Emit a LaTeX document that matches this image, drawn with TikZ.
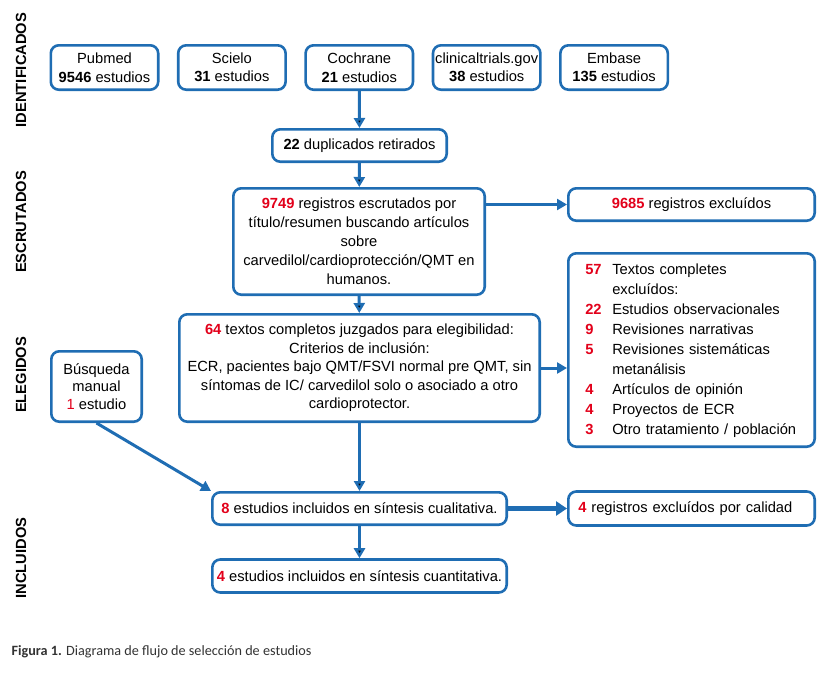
\documentclass[tikz,border=0pt]{standalone}
\usepackage{fontspec}
\setmainfont{Liberation Sans}
\newfontfamily\capfont{Carlito}
\usetikzlibrary{positioning,arrows.meta}

\definecolor{flowblue}{HTML}{1F6DB3}
\definecolor{numred}{HTML}{E2001A}
\definecolor{capgray}{HTML}{333333}
\newcommand{\rnum}[1]{\textcolor{numred}{\textbf{#1}}}

\tikzset{
  box/.style={draw=flowblue, line width=2.6pt, rounded corners=8pt, align=center, inner sep=0pt,
    font=\fontsize{14.7}{18.5}\selectfont},
  srcbox/.style={box, minimum width=107.4pt, minimum height=44.4pt},
  exclbox/.style={box, minimum width=246.4pt},
  phase/.style={rotate=90, font=\bfseries\fontsize{14.7}{17}\selectfont},
  flow/.style={-{Triangle[length=10pt,width=11pt]}, draw=flowblue, line width=3pt},
}

\begin{document}
\begin{tikzpicture}[x=1pt,y=-1pt]
  \useasboundingbox (0,0) rectangle (829,672);

  % stage labels
  \node[phase] (identif) at (21,70)  {IDENTIFICADOS};
  \node[phase] (escrut)  at (21,222) {ESCRUTADOS};
  \node[phase] (eleg)    at (21,375) {ELEGIDOS};
  \node[phase] (incl)    at (21,558) {INCLUIDOS};

  % sources
  \node[srcbox] (pubmed) at (104.5,67.5) {Pubmed\\\textbf{9546} estudios};
  \node[srcbox] (scielo)   [right=17.4pt of pubmed]   {Scielo\\\textbf{31} estudios};
  \node[srcbox] (cochrane) [right=17.4pt of scielo]   {Cochrane\\\textbf{21} estudios};
  \node[srcbox] (clinical) [right=17.4pt of cochrane] {clinicaltrials.gov\\\textbf{38} estudios};
  \node[srcbox] (embase)   [right=17.4pt of clinical] {Embase\\\textbf{135} estudios};

  \node[box, minimum width=174.4pt, minimum height=32.4pt] (dupl) at (359.5,145.5)
    {\textbf{22} duplicados retirados};

  \node[box, minimum width=251.4pt, minimum height=106.4pt, font=\fontsize{14.7}{19}\selectfont] (screen) at (359,241.5)
    {\rnum{9749} registros escrutados por\\t\'itulo/resumen buscando art\'iculos\\sobre\\carvedilol/cardioprotecci\'on/QMT en\\humanos.};
  \node[exclbox, minimum height=32.4pt] (excl1) at (691.5,204.5) {\rnum{9685} registros exclu\'idos};

  \node[box, minimum width=360.4pt, minimum height=107.4pt] (elig) at (359.5,368)
    {\rnum{64} textos completos juzgados para elegibilidad:\\Criterios de inclusi\'on:\\ECR, pacientes bajo QMT/FSVI normal pre QMT, sin\\s\'intomas de IC/ carvedilol solo o asociado a otro\\cardioprotector.};
  \node[exclbox, minimum height=193.4pt, text width=212.4pt, inner xsep=17pt, align=left,
    font=\fontsize{14.7}{20}\selectfont] (excl2) at (691.5,350)
    {\begin{tabular}{@{}p{27pt}@{}l@{}}
      \rnum{57} & Textos completes\\
                & exclu\'idos:\\
      \rnum{22} & Estudios observacionales\\
      \rnum{9}  & Revisiones narrativas\\
      \rnum{5}  & Revisiones sistem\'aticas\\
                & metan\'alisis\\
      \rnum{4}  & Art\'iculos de opini\'on\\
      \rnum{4}  & Proyectos de ECR\\
      \rnum{3}  & Otro tratamiento / poblaci\'on
    \end{tabular}};

  \node[box, minimum width=90.4pt, minimum height=70.4pt, font=\fontsize{14.7}{17.5}\selectfont] (manual) at (96.5,386.5)
    {B\'usqueda\\manual\\\textcolor{numred}{1} estudio};

  \node[box, minimum width=294.4pt, minimum height=32.4pt] (qual) at (359.5,508.5)
    {\rnum{8} estudios incluidos en s\'intesis cualitativa.};
  \node[exclbox, minimum height=34pt, text width=226.4pt, inner xsep=10pt, align=left] (excl3) at (691.5,508.5)
    {\rnum{4} registros exclu\'idos por calidad};
  \node[box, minimum width=294.4pt, minimum height=33pt] (quant) at (359.5,576)
    {\rnum{4} estudios incluidos en s\'intesis cuantitativa.};

  % connectors
  \path[flow] (cochrane) edge (dupl)
              (dupl)     edge (screen)
              (screen)   edge (elig)
              (elig)     edge (qual)
              (qual)     edge (quant);
  \draw[flow] (screen.east |- excl1) -- (excl1.west);
  \draw[flow] (elig.east) -- (elig.east -| excl2.west);
  \draw[flow] (manual.south) -- (qual.north west);
  \draw[flow, line width=5pt, -{Triangle[length=11pt,width=14pt]}] (qual.east) -- (excl3.west);

  % caption
  \node[anchor=west, font=\capfont\fontsize{14.2}{17}\selectfont, text=capgray] (caption) at (8,652)
    {\textbf{Figura 1.} Diagrama de flujo de selecci\'on de estudios};
\end{tikzpicture}
\end{document}
